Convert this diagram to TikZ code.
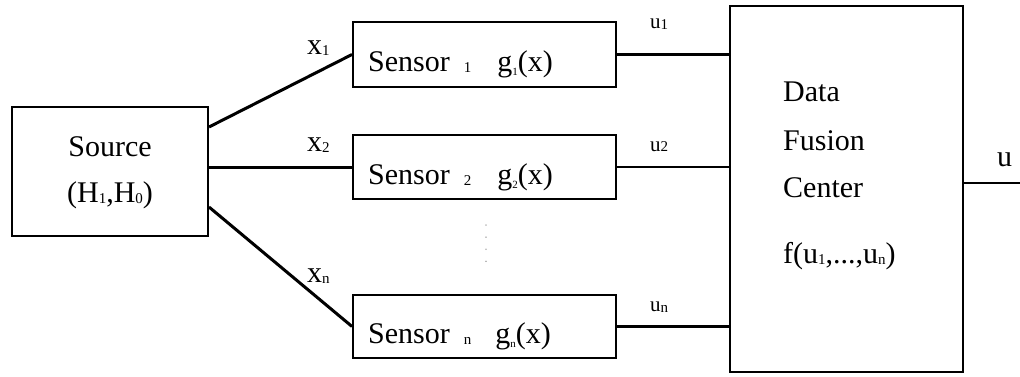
\documentclass[tikz,border=0pt]{standalone}
\usepackage{fontspec}
\setmainfont{Liberation Serif}
\newcommand{\bigtxt}{\fontsize{30}{35}\selectfont}
\newcommand{\smtxt}{\fontsize{21}{25}\selectfont}
\newcommand{\sbs}[1]{\raisebox{-1pt}{\fontsize{15}{15}\selectfont #1}}
\newcommand{\tsb}[1]{\raisebox{-4pt}{\fontsize{11}{11}\selectfont #1}}
\begin{document}
\begin{tikzpicture}[x=1pt,y=-1pt,
  blk/.style={draw,line width=2pt,inner sep=0pt},
  wire/.style={line width=3pt},
  uwire/.style={line width=2.2pt},
  txt/.style={inner sep=0pt,anchor=base west,font=\bigtxt},
  utxt/.style={inner sep=0pt,anchor=base west,font=\smtxt}]
\useasboundingbox (0,0) rectangle (1020,377);
% boxes
\node[blk,minimum width=196pt,minimum height=129pt] (src) at (110,171.5) {};
\node[blk,minimum width=263pt,minimum height=65pt] (s1) at (484.5,54.5) {};
\node[blk,minimum width=263pt,minimum height=64pt] (s2) at (484.5,167) {};
\node[blk,minimum width=263pt,minimum height=63pt] (sn) at (484.5,326.5) {};
\node[blk,minimum width=233pt,minimum height=366pt] (fus) at (846.5,189) {};
% source text
\node[inner sep=0pt,anchor=base,font=\bigtxt] (srct) at (110,157) {Source};
\node[inner sep=0pt,anchor=base,font=\bigtxt] (srch) at (110,202) {(H\sbs{1},H\sbs{0})};
% sensor texts
\node[txt] (s1t) at (368,72) {Sensor\hspace{14pt}\sbs{1}\hspace{26pt}g\tsb{1}(x)};
\node[txt] (s2t) at (368,184) {Sensor\hspace{14pt}\sbs{2}\hspace{26pt}g\tsb{2}(x)};
\node[txt] (snt) at (368,343) {Sensor\hspace{14pt}\sbs{n}\hspace{24pt}g\tsb{n}(x)};
% fusion text
\node[txt] (f1) at (783,102) {Data};
\node[txt] (f2) at (783,150) {Fusion};
\node[txt] (f3) at (783,197) {Center};
\node[txt] (f4) at (783,263) {f(u\sbs{1},...,u\sbs{n})};
% connectors source -> sensors
\draw[wire] (src.east |- 0,127) -- (s1.west);
\draw[wire] (src.east |- s2.west) -- (s2.west);
\draw[wire] (src.east |- 0,207) -- (sn.west);
% sensors -> fusion
\draw[uwire] (s1.east) -- (fus.west |- s1.east);
\draw[uwire] (s2.east) -- (fus.west |- s2.east);
\draw[uwire] (sn.east) -- (fus.west |- sn.east);
% output
\coordinate (out) at (1020,183);
\draw[uwire] (fus.east |- out) -- (out);
% labels
\node[txt] (lx1) at (307,55) {x\sbs{1}};
\node[txt] (lx2) at (307,152) {x\sbs{2}};
\node[txt] (lxn) at (307,282) {x\sbs{n}};
\node[utxt] (lu1) at (650,29) {u\sbs{1}};
\node[utxt] (lu2) at (650,151) {u\sbs{2}};
\node[utxt] (lun) at (650,311) {u\sbs{n}};
\node[txt] (lu) at (997,167) {u};
% vertical dots
\draw[gray!60,line width=1.5pt,line cap=round,dash pattern=on 0.1pt off 12pt] (486,225) -- (486,264);
\end{tikzpicture}
\end{document}
